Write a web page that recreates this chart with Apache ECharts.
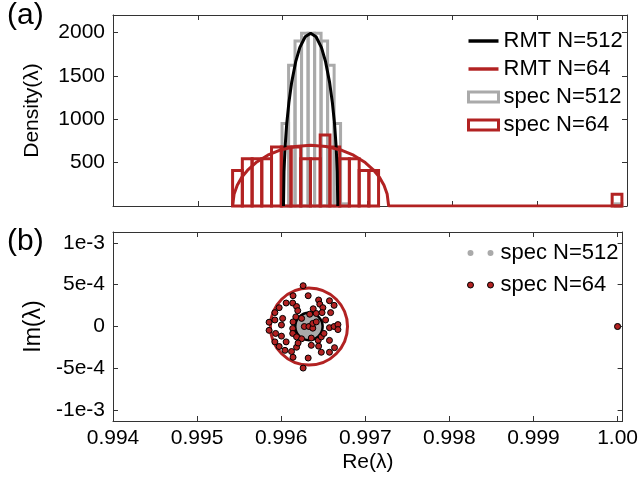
<!DOCTYPE html>
<html><head><meta charset="utf-8">
<script src="https://cdn.jsdelivr.net/npm/echarts@6/dist/echarts.min.js"></script>
<style>html,body{margin:0;padding:0;background:#fff}#c{width:641px;height:480px}</style>
</head><body><div id="c"></div><script>
// ---------- data ----------
const xTicks = [0.994, 0.995, 0.996, 0.997, 0.998, 0.999, 1.0];
const xTickLabels = ['0.994', '0.995', '0.996', '0.997', '0.998', '0.999', '1.00'];
const densityTicks = [500, 1000, 1500, 2000];
const densityTickLabels = ['500', '1000', '1500', '2000'];
const imTicks = [-1e-3, -5e-4, 0, 5e-4, 1e-3];
const imTickLabels = ['-1e-3', '-5e-4', '0', '5e-4', '1e-3'];

// histogram spec N=512 (bin left, bin right, density)
const spec512Left  = [0.995993, 0.996070, 0.996146, 0.996223, 0.996300, 0.996377, 0.996453, 0.996530, 0.996607, 0.996683, 0.999923];
const spec512Right = [0.996070, 0.996146, 0.996223, 0.996300, 0.996377, 0.996453, 0.996530, 0.996607, 0.996683, 0.996760, 1.000000];
const spec512Density = [950, 1620, 1900, 1990, 1990, 1990, 1900, 1620, 950, 25, 25];

// histogram spec N=64
const spec64Left  = [0.995410, 0.995525, 0.995640, 0.995754, 0.995869, 0.995984, 0.996099, 0.996213, 0.996328, 0.996443, 0.996558, 0.996672, 0.996787, 0.996902, 0.997017, 0.999885];
const spec64Right = [0.995525, 0.995640, 0.995754, 0.995869, 0.995984, 0.996099, 0.996213, 0.996328, 0.996443, 0.996558, 0.996672, 0.996787, 0.996902, 0.997017, 0.997131, 1.000000];
const spec64Density = [409, 545, 545, 545, 681, 681, 681, 545, 545, 817, 681, 545, 545, 409, 409, 136];

// RMT curves
const rmt512Re = [0.99601, 0.996016, 0.996029, 0.996048, 0.996074, 0.996106, 0.996154, 0.996202, 0.996266, 0.99633, 0.996394, 0.996458, 0.996506, 0.996554, 0.996586, 0.996612, 0.996631, 0.996644, 0.99665];
const rmt512Density = [0, 396, 679, 945, 1194, 1421, 1662, 1825, 1950, 1990, 1950, 1825, 1662, 1421, 1194, 945, 679, 396, 0];
const rmt64Re = [0.99541, 0.995428, 0.995465, 0.99552, 0.995594, 0.995686, 0.995824, 0.995962, 0.996146, 0.99633, 0.996514, 0.996698, 0.996836, 0.996974, 0.997066, 0.99714, 0.997195, 0.997232, 0.99725, 1.0];
const rmt64Density = [0, 139, 239, 333, 420, 500, 585, 642, 686, 700, 686, 642, 585, 500, 420, 333, 239, 139, 0, 0];

// RMT circles in the complex plane: centre (re, im) and radius
const circleCentreRe = [0.99633, 0.99633];
const circleCentreIm = [0, 0];
const circleRadius = [0.000163, 0.00046];

// eigenvalues N=512 (dense disk)
const eig512Re = [0.996460, 0.996443, 0.996395, 0.99633, 0.996265, 0.996217, 0.9962, 0.996217, 0.996265, 0.99633, 0.996395, 0.996443,
  0.996425, 0.996395, 0.99633, 0.996265, 0.996235, 0.996265, 0.99633, 0.996395,
  0.996375, 0.99634, 0.99629, 0.9963, 0.99635, 0.99633, 1.0];
const eig512Im = [0, 0.65e-4, 1.12e-4, 1.3e-4, 1.12e-4, 0.65e-4, 0, -0.65e-4, -1.12e-4, -1.3e-4, -1.12e-4, -0.65e-4,
  0, 0.62e-4, 0.9e-4, 0.62e-4, 0, -0.62e-4, -0.9e-4, -0.62e-4,
  0.1e-4, 0.45e-4, 0.2e-4, -0.35e-4, -0.4e-4, 0, 0];

// eigenvalues N=64
const eig64Re = [0.996261, 0.996141, 0.996321, 0.996059, 0.996137, 0.996183, 0.996197, 0.995976, 0.995925, 0.996445,
  0.996574, 0.996459, 0.996629, 0.996381, 0.996496, 0.996417, 0.996486, 0.996339, 0.996588, 0.996174,
  0.996243, 0.996017, 0.995925, 0.995856, 0.996141, 0.995856, 0.996275, 0.99633, 0.996376, 0.996376,
  0.996137, 0.996574, 0.996629, 0.996675, 0.996675, 0.995934, 0.996003, 0.996137, 0.996183, 0.996243,
  0.996358, 0.99644, 0.996477, 0.996574, 0.996358, 0.996445, 0.995925, 0.995976, 0.996045, 0.996123,
  0.996059, 0.996183, 0.996201, 0.996477, 0.996574, 0.996634, 0.996321, 0.996141, 0.996261, 0.996003,
  0.996528, 0.996509, 0.996417, 1.0];
const eig64Im = [4.88e-4, 3.68e-4, 3.68e-4, 2.81e-4, 2.81e-4, 2.39e-4, 1.89e-4, 2.25e-4, 1.66e-4, 3.17e-4,
  3.08e-4, 2.67e-4, 2.53e-4, 2.12e-4, 2.25e-4, 1.56e-4, 1.66e-4, 1.47e-4, 1.66e-4, 1.15e-4,
  0.97e-4, 0.97e-4, 0.78e-4, 0.51e-4, 0.55e-4, -0.46e-4, 0, 0, -0.2e-4, 0.37e-4,
  -0.23e-4, -0.14e-4, 0, 0.23e-4, -0.37e-4, -0.83e-4, -1.15e-4, -0.83e-4, -1.24e-4, -1.47e-4,
  -1.38e-4, -1.66e-4, -1.24e-4, -1.66e-4, -2.25e-4, -2.35e-4, -1.84e-4, -2.39e-4, -2.85e-4, -2.99e-4,
  -1.84e-4, -2.48e-4, -1.98e-4, -3.08e-4, -3.08e-4, -2.53e-4, -3.77e-4, -3.68e-4, -4.97e-4, 0.18e-4,
  0.78e-4, -0.83e-4, 0.55e-4, 0];

// ---------- chart ----------
const FONT = '"Liberation Sans", Arial, Helvetica, sans-serif';
const RED = '#b22222';
const GRAY = '#aaaaaa';
const AXIS = '#333333';
const TICK_FS = 21;
const LEG_FS = 22;
const zip = (a, b) => a.map((v, i) => [v, b[i]]);
const zip3 = (a, b, c) => a.map((v, i) => [v, b[i], c[i]]);

function findLabel(vals, labels, v) {
  for (let i = 0; i < vals.length; i++) {
    if (Math.abs(vals[i] - v) < 1e-9) return labels[i];
  }
  return '';
}

function ax(extra) {
  return Object.assign({
    type: 'value',
    axisLine: { show: true, onZero: false, lineStyle: { color: AXIS, width: 1 } },
    axisTick: { show: true, inside: true, length: 5, lineStyle: { color: AXIS, width: 1 } },
    splitLine: { show: false },
    axisLabel: { show: false }
  }, extra);
}

const XMIN = 0.994, XMAX = 1.00006;
const xTickCfg = { show: true, inside: true, length: 5, customValues: xTicks, lineStyle: { color: AXIS } };

const histRender = (color) => function (params, api) {
  const p0 = api.coord([api.value(0), api.value(2)]);
  const p1 = api.coord([api.value(1), 0]);
  return {
    type: 'rect',
    shape: { x: p0[0], y: p0[1], width: p1[0] - p0[0], height: p1[1] - p0[1] },
    style: { fill: 'none', stroke: color, lineWidth: 3 }
  };
};

const circleRender = (color, width) => function (params, api) {
  const c = api.coord([api.value(0), api.value(1)]);
  const s = api.size([api.value(2), api.value(2)]);
  return {
    type: 'circle',
    shape: { cx: c[0], cy: c[1], r: (s[0] + s[1]) / 2 },
    style: { fill: 'none', stroke: color, lineWidth: width }
  };
};

const twoDots = 'path://M0,3a3,3 0 1,0 6,0a3,3 0 1,0 -6,0M20,3a3,3 0 1,0 6,0a3,3 0 1,0 -6,0';
const lineIcon = 'path://M0,0L26,0L26,3L0,3Z';

const chart = echarts.init(document.getElementById('c'), null, { renderer: 'canvas' });
chart.setOption({
  animation: false,
  backgroundColor: '#fff',
  textStyle: { fontFamily: FONT },
  grid: [
    { left: 113, top: 15, width: 514, height: 191 },
    { left: 113, top: 232, width: 514, height: 189 }
  ],
  xAxis: [
    ax({ gridIndex: 0, position: 'bottom', min: XMIN, max: XMAX, axisTick: xTickCfg }),
    ax({ gridIndex: 0, position: 'top', min: XMIN, max: XMAX, axisTick: xTickCfg }),
    ax({ gridIndex: 1, position: 'bottom', min: XMIN, max: XMAX, axisTick: xTickCfg,
      axisLabel: { show: true, customValues: xTicks, margin: 7, fontSize: TICK_FS, color: '#000', fontFamily: FONT,
        formatter: v => findLabel(xTicks, xTickLabels, v) },
      name: 'Re(λ)', nameLocation: 'middle', nameGap: 31,
      nameTextStyle: { fontSize: 21, color: '#000', fontFamily: FONT } }),
    ax({ gridIndex: 1, position: 'top', min: XMIN, max: XMAX, axisTick: xTickCfg })
  ],
  yAxis: [
    ax({ gridIndex: 0, position: 'left', min: 0, max: 2200,
      axisTick: { show: true, inside: true, length: 5, customValues: densityTicks, lineStyle: { color: AXIS } },
      axisLabel: { show: true, customValues: densityTicks, margin: 8, fontSize: TICK_FS, color: '#000', fontFamily: FONT,
        formatter: v => findLabel(densityTicks, densityTickLabels, v) },
      name: 'Density(λ)', nameLocation: 'middle', nameGap: 70, nameRotate: 90,
      nameTextStyle: { fontSize: 21, color: '#000', fontFamily: FONT } }),
    ax({ gridIndex: 0, position: 'right', min: 0, max: 2200,
      axisTick: { show: true, inside: true, length: 5, customValues: densityTicks, lineStyle: { color: AXIS } } }),
    ax({ gridIndex: 1, position: 'left', min: -1.13e-3, max: 1.13e-3,
      axisTick: { show: true, inside: true, length: 5, customValues: imTicks, lineStyle: { color: AXIS } },
      axisLabel: { show: true, customValues: imTicks, margin: 8, fontSize: TICK_FS, color: '#000', fontFamily: FONT,
        formatter: v => findLabel(imTicks, imTickLabels, v) },
      name: 'Im(λ)', nameLocation: 'middle', nameGap: 68, nameRotate: 90,
      nameTextStyle: { fontSize: 23, color: '#000', fontFamily: FONT } }),
    ax({ gridIndex: 1, position: 'right', min: -1.13e-3, max: 1.13e-3,
      axisTick: { show: true, inside: true, length: 5, customValues: imTicks, lineStyle: { color: AXIS } } })
  ],
  legend: [
    {
      orient: 'vertical', left: 462, top: 25, itemWidth: 30, itemHeight: 10, itemGap: 6, itemTextGap: 13,
      symbolKeepAspect: true,
      textStyle: { fontSize: LEG_FS, color: '#000', fontFamily: FONT },
      data: [
        { name: 'RMT N=512', icon: lineIcon, itemStyle: { color: '#000', borderWidth: 0 } },
        { name: 'RMT N=64', icon: lineIcon, itemStyle: { color: RED, borderWidth: 0 } },
        { name: 'spec N=512', icon: 'rect', itemStyle: { color: '#fff', borderColor: GRAY, borderWidth: 3 } },
        { name: 'spec N=64', icon: 'rect', itemStyle: { color: '#fff', borderColor: RED, borderWidth: 3 } }
      ]
    },
    {
      orient: 'vertical', left: 462, top: 237, itemWidth: 30, itemHeight: 6, itemGap: 10, itemTextGap: 13,
      textStyle: { fontSize: LEG_FS, color: '#000', fontFamily: FONT },
      formatter: n => n.replace('|b', ''),
      data: [
        { name: 'spec N=512|b', icon: twoDots, itemStyle: { color: GRAY, borderWidth: 0 } },
        { name: 'spec N=64|b', icon: twoDots, itemStyle: { color: RED, borderColor: '#000', borderWidth: 1 } }
      ]
    }
  ],
  graphic: [
    { type: 'text', left: 7, top: 1, style: { text: '(a)', fontSize: 30, fontFamily: FONT, fill: '#000' } },
    { type: 'text', left: 7, top: 227, style: { text: '(b)', fontSize: 30, fontFamily: FONT, fill: '#000' } }
  ],
  series: [
    { name: 'spec N=512', type: 'custom', xAxisIndex: 0, yAxisIndex: 0, z: 2,
      renderItem: histRender(GRAY), encode: { x: [0, 1], y: 2 },
      itemStyle: { color: GRAY },
      data: zip3(spec512Left, spec512Right, spec512Density) },
    { name: 'spec N=64', type: 'custom', xAxisIndex: 0, yAxisIndex: 0, z: 3,
      renderItem: histRender(RED), encode: { x: [0, 1], y: 2 },
      itemStyle: { color: RED },
      data: zip3(spec64Left, spec64Right, spec64Density) },
    { name: 'RMT N=512', type: 'line', xAxisIndex: 0, yAxisIndex: 0, z: 4, symbol: 'none',
      lineStyle: { color: '#000', width: 3 }, itemStyle: { color: '#000' },
      data: zip(rmt512Re, rmt512Density) },
    { name: 'RMT N=64', type: 'line', xAxisIndex: 0, yAxisIndex: 0, z: 5, symbol: 'none',
      lineStyle: { color: RED, width: 3 }, itemStyle: { color: RED },
      data: zip(rmt64Re, rmt64Density) },

    { name: 'spec N=512|b', type: 'scatter', xAxisIndex: 2, yAxisIndex: 2, z: 2, symbolSize: 7,
      itemStyle: { color: GRAY, opacity: 1 },
      data: zip(eig512Re, eig512Im) },
    { name: 'RMT circle N=512', type: 'custom', xAxisIndex: 2, yAxisIndex: 2, z: 3,
      renderItem: circleRender('#000', 2.5), encode: { x: 0, y: 1 },
      data: [[circleCentreRe[0], circleCentreIm[0], circleRadius[0]]] },
    { name: 'RMT circle N=64', type: 'custom', xAxisIndex: 2, yAxisIndex: 2, z: 4,
      renderItem: circleRender(RED, 3), encode: { x: 0, y: 1 },
      data: [[circleCentreRe[1], circleCentreIm[1], circleRadius[1]]] },
    { name: 'spec N=64|b', type: 'scatter', xAxisIndex: 2, yAxisIndex: 2, z: 5, symbolSize: 6,
      itemStyle: { color: RED, borderColor: '#000', borderWidth: 1, opacity: 1 },
      data: zip(eig64Re, eig64Im) }
  ]
});
</script></body></html>
